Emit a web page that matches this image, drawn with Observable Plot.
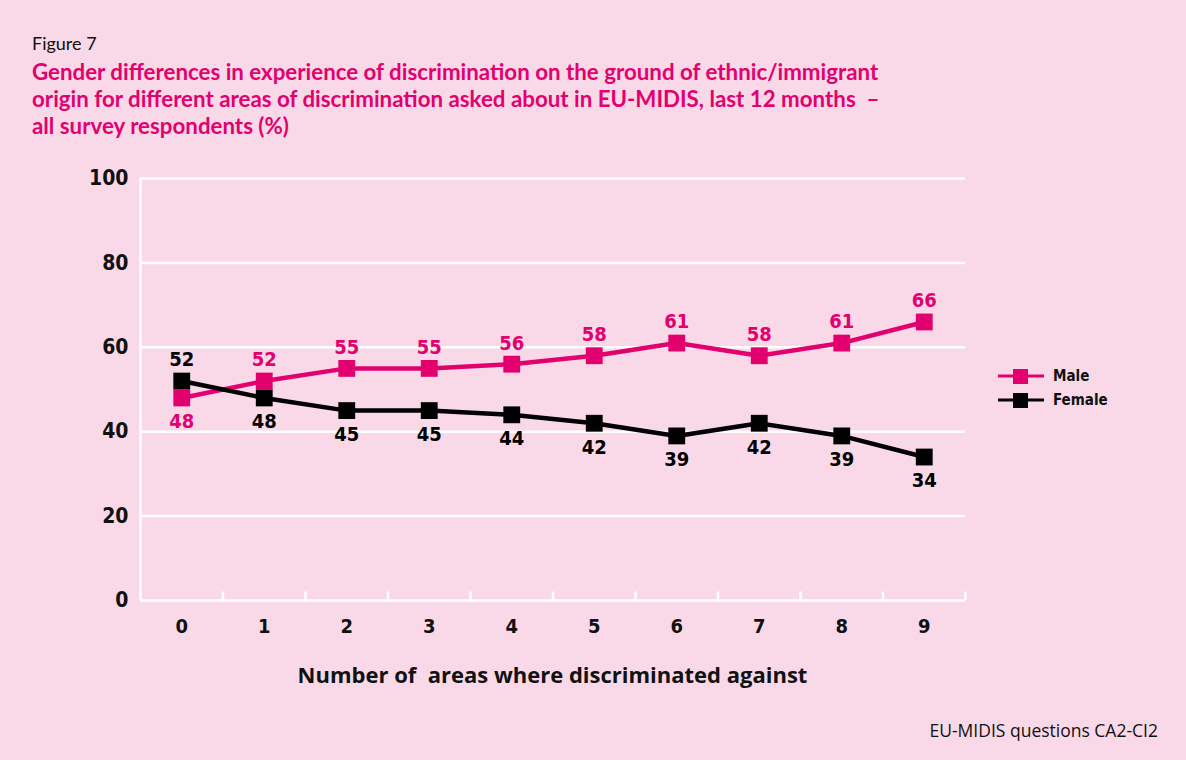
<!DOCTYPE html>
<html>
<head>
<meta charset="utf-8">
<script src="https://cdn.jsdelivr.net/npm/d3@7"></script>
<script src="https://cdn.jsdelivr.net/npm/@observablehq/plot@0.6"></script>
<style>
  html, body { margin: 0; padding: 0; }
  body { width: 1186px; height: 760px; background: #f9d9e7; position: relative; overflow: hidden;
         font-family: "DejaVu Sans Condensed", sans-serif; }
  .abs { position: absolute; white-space: nowrap; }
  #fig { left: 32px; top: 32px; font-family: Lato, "Open Sans", sans-serif; font-size: 18px; color: #111; }
  #title { left: 32px; top: 58px; font-family: Lato, "Open Sans", sans-serif; font-weight: bold; font-size: 22.3px;
           line-height: 27px; color: #e2006f; }
  #chart { left: 0; top: 160px; }
  #xtitle { left: 0; width: 1105px; text-align: center; top: 659px; font-family: "Open Sans", Lato, sans-serif;
            font-weight: bold; font-size: 22px; color: #111; }
  #caption { right: 28px; top: 718px; font-family: "Open Sans", Lato, sans-serif; font-size: 17.5px; color: #111; }
  #legend { left: 998px; top: 364px; font-weight: bold; font-size: 15px; color: #111; }
  #legend .row { display: flex; align-items: center; height: 24px; }
  #legend svg { margin-right: 9px; }
</style>
</head>
<body>
<div id="fig" class="abs">Figure 7</div>
<div id="title" class="abs">Gender differences in experience of discrimination on the ground of ethnic/immigrant<br>origin for different areas of discrimination asked about in EU-MIDIS, last 12 months&nbsp; –<br>all survey respondents (%)</div>
<div id="chart" class="abs"></div>
<div id="xtitle" class="abs">Number of&nbsp; areas where discriminated against</div>
<div id="caption" class="abs">EU-MIDIS questions CA2-CI2</div>
<div id="legend" class="abs"></div>
<script>
const categories = [0, 1, 2, 3, 4, 5, 6, 7, 8, 9];
const male   = [48, 52, 55, 55, 56, 58, 61, 58, 61, 66];
const female = [52, 48, 45, 45, 44, 42, 39, 42, 39, 34];
const yTicks = [0, 20, 40, 60, 80, 100];
const seriesNames = ["Male", "Female"];
const colors = ["#e2006f", "#000000"];

const maleData = categories.map((c, i) => ({x: c, y: male[i]}));
const femaleData = categories.map((c, i) => ({x: c, y: female[i]}));
const boundaries = categories.map(c => c + 0.5);

const labelFont = {fontSize: 20, fontWeight: "600"};

const chart = Plot.plot({
  width: 1186,
  height: 540,
  marginLeft: 140,
  marginRight: 221,
  marginTop: 18,
  marginBottom: 100,
  style: {background: "transparent", fontFamily: '"DejaVu Sans Condensed", sans-serif', color: "#111"},
  x: {domain: [-0.5, 9.5]},
  y: {domain: [0, 100]},
  marks: [
    Plot.ruleY(yTicks, {stroke: "white", strokeWidth: 2.5, strokeOpacity: 1}),
    Plot.ruleX([-0.5], {stroke: "white", strokeWidth: 2.5}),
    Plot.ruleX(boundaries, {y1: 0, y2: 2, stroke: "white", strokeWidth: 2.5}),
    Plot.axisY({ticks: yTicks, tickSize: 0, tickPadding: 12, fontSize: 21, fontWeight: "bold", label: null}),
    Plot.axisX({ticks: categories, tickSize: 0, tickPadding: 18, fontSize: 20, fontWeight: "bold", label: null}),
    Plot.line(maleData, {x: "x", y: "y", stroke: colors[0], strokeWidth: 4.5}),
    Plot.line(femaleData, {x: "x", y: "y", stroke: colors[1], strokeWidth: 4.5}),
    Plot.dot(maleData, {x: "x", y: "y", symbol: "square", r: 9.5, fill: colors[0]}),
    Plot.dot(femaleData, {x: "x", y: "y", symbol: "square", r: 9.5, fill: colors[1]}),
    Plot.text(maleData, {filter: d => d.y >= female[d.x], x: "x", y: "y", text: d => String(d.y), dy: -21, fill: colors[0], ...labelFont}),
    Plot.text(maleData, {filter: d => d.y < female[d.x], x: "x", y: "y", text: d => String(d.y), dy: 24, fill: colors[0], ...labelFont}),
    Plot.text(femaleData, {filter: d => d.y <= male[d.x], x: "x", y: "y", text: d => String(d.y), dy: 24, fill: colors[1], ...labelFont}),
    Plot.text(femaleData, {filter: d => d.y > male[d.x], x: "x", y: "y", text: d => String(d.y), dy: -21, fill: colors[1], ...labelFont})
  ]
});
document.getElementById("chart").appendChild(chart);

const legend = document.getElementById("legend");
seriesNames.forEach((name, i) => {
  const row = document.createElement("div");
  row.className = "row";
  row.innerHTML = `<svg width="46" height="16"><line x1="0" x2="46" y1="8" y2="8" stroke="${colors[i]}" stroke-width="3"/><rect x="15" y="1" width="15" height="15" fill="${colors[i]}"/></svg><span>${name}</span>`;
  legend.appendChild(row);
});
</script>
</body>
</html>
